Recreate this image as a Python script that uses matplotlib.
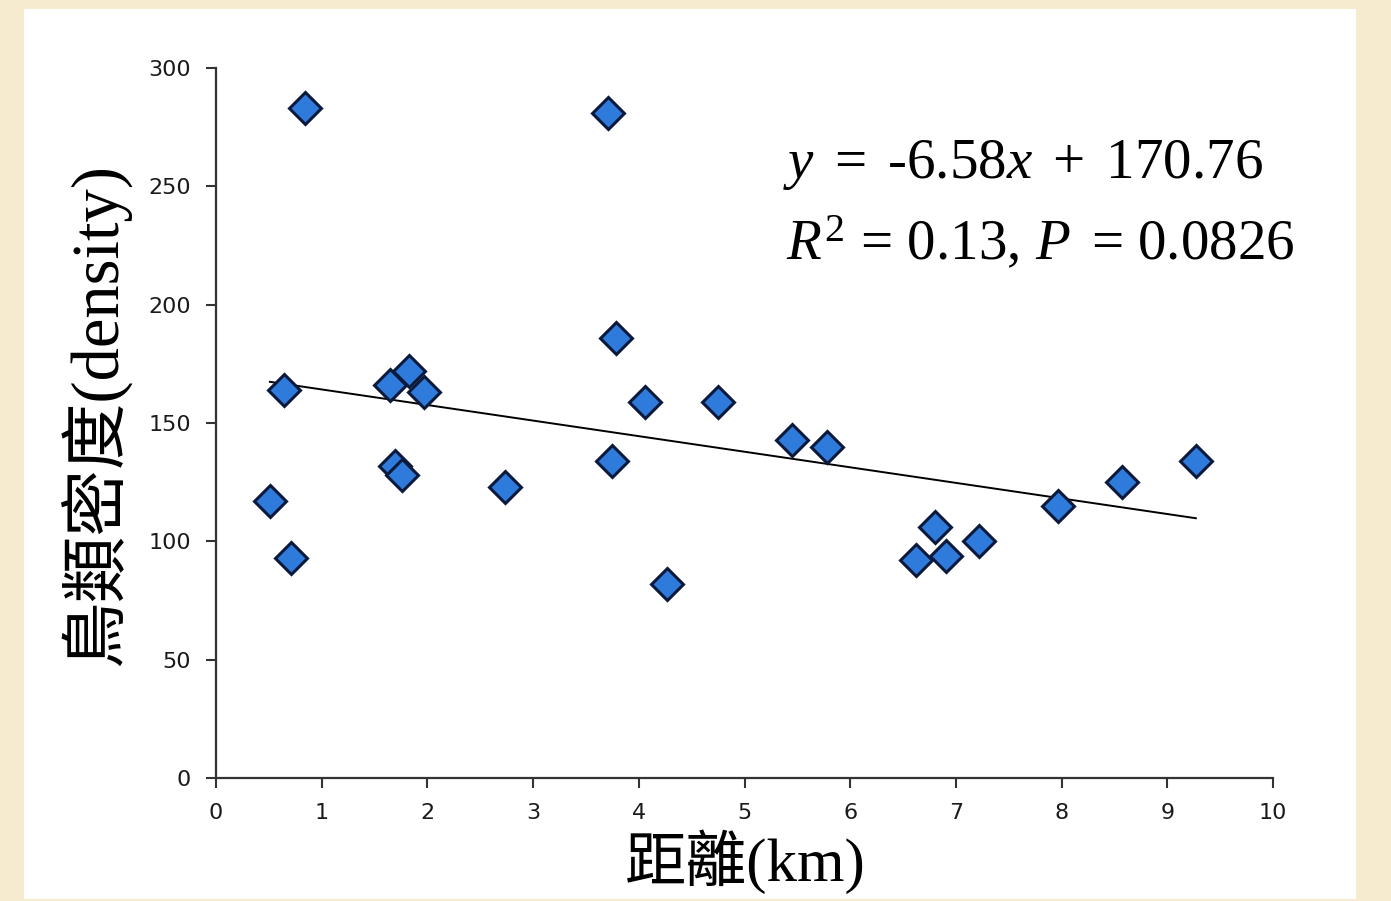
import matplotlib.pyplot as plt
from matplotlib.patches import Rectangle

# Datos: distancia (km) y densidad de aves
distancia = [0.84, 3.71, 3.78, 0.64, 1.65, 1.83, 1.97, 4.06, 4.75, 5.45, 5.78,
             1.69, 1.76, 3.75, 2.73, 0.51, 0.71, 4.27, 6.62, 6.80, 6.91, 7.22,
             7.97, 8.57, 9.27]
densidad = [283, 281, 186, 164, 166, 172, 163, 159, 159, 143, 140,
            132, 128, 134, 123, 117, 93, 82, 92, 106, 94, 100,
            115, 125, 134]

pendiente = -6.58
intercepto = 170.76
x_ticks = list(range(0, 11))
y_ticks = [0, 50, 100, 150, 200, 250, 300]

ecuacion = r'$y\,$ = $\,$-6.58$x\,$ + $\,$170.76'
estadistico = r'$R^2$ = 0.13, $P\,$ = 0.0826'
etiqueta_x = '距離(km)'
etiqueta_y = '鳥類密度(density)'

plt.rcParams['mathtext.fontset'] = 'custom'
plt.rcParams['mathtext.rm'] = 'Liberation Serif'
plt.rcParams['mathtext.it'] = 'Liberation Serif:italic'

fig = plt.figure(figsize=(13.91, 9.01), dpi=100)
fig.patch.set_facecolor('#f7ebcf')
# Panel blanco interior
fig.patches.append(Rectangle((24 / 1391, 1 - 899 / 901), (1356 - 24) / 1391, (899 - 9) / 901,
                             transform=fig.transFigure, facecolor='white',
                             edgecolor='none', zorder=-5))

ax = fig.add_axes([216 / 1391, 1 - 778 / 901, (1273 - 216) / 1391, (778 - 68) / 901])
ax.set_facecolor('none')
ax.set_zorder(2)

# Recta de regresión entre el mínimo y el máximo de x
x0, x1 = min(distancia), max(distancia)
ax.plot([x0, x1], [pendiente * x0 + intercepto, pendiente * x1 + intercepto],
        color='black', lw=1.4, zorder=2)

ax.plot(distancia, densidad, linestyle='none', marker='D', markersize=16,
        markerfacecolor='#2f7bdb', markeredgecolor='#0b1a3c',
        markeredgewidth=2.2, zorder=3, clip_on=False)

ax.set_xlim(0, 10)
ax.set_ylim(0, 300)
ax.set_xticks(x_ticks)
ax.set_yticks(y_ticks)
ax.tick_params(direction='out', length=7, width=1.5, color='#333333',
               labelsize=16, pad=11, labelcolor='#1a1a1a')
for lado in ['top', 'right']:
    ax.spines[lado].set_visible(False)
for lado in ['left', 'bottom']:
    ax.spines[lado].set_linewidth(1.6)
    ax.spines[lado].set_color('#333333')

fuente = ['Liberation Serif', 'Noto Sans CJK TC']
fig.text(745 / 1391, 1 - 862 / 901, etiqueta_x, ha='center', va='center',
         fontsize=44, family=fuente)
fig.text(95 / 1391, 1 - 415 / 901, etiqueta_y, ha='center', va='center',
         rotation=90, fontsize=48, family=fuente)

fig.text(783 / 1391, 1 - 178 / 901, ecuacion, ha='left', va='baseline',
         fontsize=41, family='Liberation Serif')
fig.text(786 / 1391, 1 - 260 / 901, estadistico, ha='left', va='baseline',
         fontsize=41, family='Liberation Serif')

fig.savefig('out.png', dpi=100, facecolor=fig.get_facecolor())
